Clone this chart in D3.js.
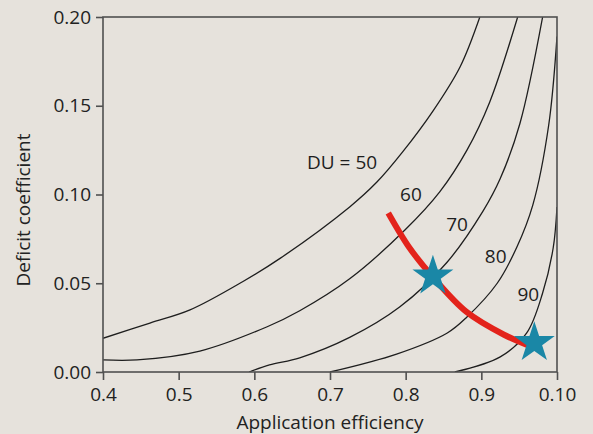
<!DOCTYPE html>
<html>
<head>
<meta charset="utf-8">
<script src="https://cdn.jsdelivr.net/npm/d3@7"></script>
<style>
  body { margin: 0; background: #e6e2dc; }
  svg { display: block; font-family: 'Open Sans', sans-serif; }
</style>
</head>
<body>
<script>
// DU curves: [application efficiency, deficit coefficient]
const du50 = [[0.40, 0.019], [0.462, 0.0276], [0.515, 0.035], [0.585, 0.051], [0.634, 0.064],
  [0.726, 0.093], [0.762, 0.107], [0.796, 0.124], [0.836, 0.147], [0.872, 0.172], [0.898, 0.200]];
const du60 = [[0.40, 0.0068], [0.445, 0.0068], [0.528, 0.0118], [0.617, 0.0255], [0.660, 0.0345],
  [0.726, 0.0525], [0.799, 0.080], [0.845, 0.1015], [0.881, 0.125], [0.911, 0.152], [0.948, 0.200]];
const du70 = [[0.593, 0.0], [0.620, 0.004], [0.660, 0.008], [0.726, 0.0195], [0.792, 0.0366],
  [0.855, 0.062], [0.902, 0.0905], [0.925, 0.109], [0.951, 0.140], [0.981, 0.200]];
const du80 = [[0.700, 0.0], [0.788, 0.0101], [0.855, 0.022], [0.881, 0.031], [0.921, 0.050],
  [0.947, 0.0704], [0.968, 0.094], [0.989, 0.139], [1.0, 0.189]];
const du90 = [[0.865, 0.0], [0.925, 0.0085], [0.960, 0.022], [0.981, 0.0445], [0.995, 0.070], [1.0, 0.093]];

const curves = [du50, du60, du70, du80, du90];
const curveLabels = [
  { text: 'DU = 50', x: 0.716, y: 0.118 },
  { text: '60', x: 0.807, y: 0.100 },
  { text: '70', x: 0.868, y: 0.083 },
  { text: '80', x: 0.919, y: 0.065 },
  { text: '90', x: 0.962, y: 0.044 }
];

// red path and the two stars
const redPath = [[0.777, 0.0896], [0.805, 0.070], [0.836, 0.0535], [0.880, 0.034], [0.930, 0.021], [0.965, 0.0145]];
const stars = [[0.836, 0.054], [0.970, 0.0165]];

const xTicks = [0.4, 0.5, 0.6, 0.7, 0.8, 0.9, 1.0];
const xTickLabels = ['0.4', '0.5', '0.6', '0.7', '0.8', '0.9', '0.10'];
const yTicks = [0.00, 0.05, 0.10, 0.15, 0.20];

const margin = { top: 17, right: 36, bottom: 62, left: 103 };
const width = 593 - margin.left - margin.right;
const height = 434 - margin.top - margin.bottom;

const x = d3.scaleLinear().domain([0.4, 1.0]).range([0, width]);
const y = d3.scaleLinear().domain([0, 0.2]).range([height, 0]);

const svg = d3.select('body').append('svg')
  .attr('width', 593)
  .attr('height', 434);

const g = svg.append('g')
  .attr('transform', `translate(${margin.left}, ${margin.top})`);

g.append('clipPath').attr('id', 'plot')
  .append('rect').attr('width', width).attr('height', height);

const line = d3.line()
  .x((d) => x(d[0]))
  .y((d) => y(d[1]))
  .curve(d3.curveCatmullRom.alpha(0.5));

const plot = g.append('g').attr('clip-path', 'url(#plot)');

plot.selectAll('path.du')
  .data(curves)
  .enter()
  .append('path')
  .attr('class', 'du')
  .attr('d', line)
  .attr('fill', 'none')
  .attr('stroke', '#1e1e1e')
  .attr('stroke-width', 1.3);

g.selectAll('text.lab')
  .data(curveLabels)
  .enter()
  .append('text')
  .attr('class', 'lab')
  .attr('x', (d) => x(d.x))
  .attr('y', (d) => y(d.y))
  .attr('dy', '0.35em')
  .attr('text-anchor', 'middle')
  .style('font-size', '19px')
  .style('fill', '#1e1e1e')
  .text((d) => d.text);

g.append('path')
  .attr('d', line(redPath))
  .attr('fill', 'none')
  .attr('stroke', '#e3231b')
  .attr('stroke-width', 6)
  .attr('stroke-linecap', 'butt');

g.selectAll('path.star')
  .data(stars)
  .enter()
  .append('path')
  .attr('class', 'star')
  .attr('transform', (d) => `translate(${x(d[0])}, ${y(d[1])})`)
  .attr('d', d3.symbol(d3.symbolStar, 520))
  .attr('fill', '#1a87a6');

// frame
g.append('rect')
  .attr('width', width)
  .attr('height', height)
  .attr('fill', 'none')
  .attr('stroke', '#505050')
  .attr('stroke-width', 1.6);

const xAxis = g.append('g')
  .attr('transform', `translate(0, ${height})`)
  .call(d3.axisBottom(x).tickValues(xTicks).tickSize(8).tickPadding(8)
    .tickFormat((d, i) => xTickLabels[i]));

const yAxis = g.append('g')
  .call(d3.axisLeft(y).tickValues(yTicks).tickSize(7).tickPadding(5)
    .tickFormat(d3.format('.2f')));

[xAxis, yAxis].forEach((ax) => {
  ax.select('.domain').remove();
  ax.selectAll('line').attr('stroke', '#505050').attr('stroke-width', 1.6);
  ax.selectAll('text').style('font-size', '19px').style('fill', '#222')
    .style('font-family', "'Open Sans', sans-serif");
});

svg.append('text')
  .attr('x', margin.left + width / 2)
  .attr('y', 429)
  .attr('text-anchor', 'middle')
  .style('font-size', '19px')
  .style('fill', '#222')
  .text('Application efficiency');

svg.append('text')
  .attr('transform', 'rotate(-90)')
  .attr('x', -210)
  .attr('y', 30)
  .attr('text-anchor', 'middle')
  .style('font-size', '19px')
  .style('fill', '#222')
  .text('Deficit coefficient');
</script>
</body>
</html>
